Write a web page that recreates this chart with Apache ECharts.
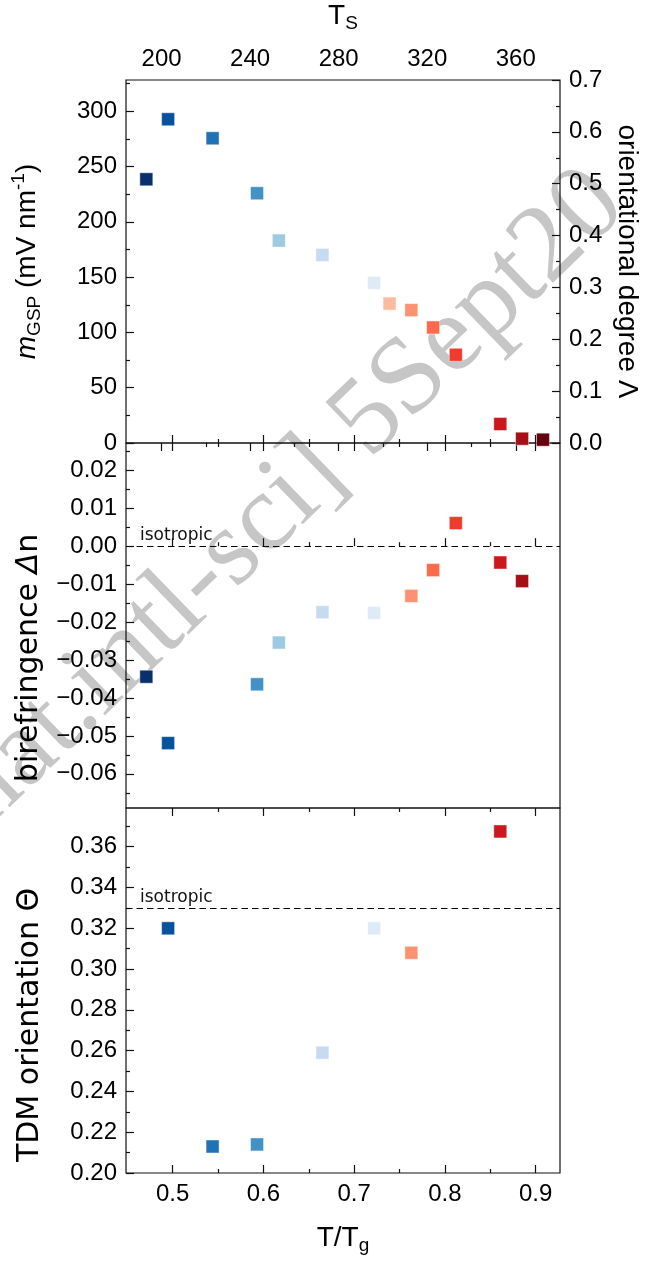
<!DOCTYPE html>
<html>
<head>
<meta charset="utf-8">
<script src="https://cdn.jsdelivr.net/npm/echarts@6/dist/echarts.min.js"></script>
<style>
  html, body { margin: 0; padding: 0; background: #ffffff; }
  #chart { width: 651px; height: 1262px; }
</style>
</head>
<body>
<div id="chart"></div>
<script>
// ---- samples, ordered by substrate temperature (reduced T / Tg) ----
const tOverTg = [0.471, 0.495, 0.544, 0.593, 0.617, 0.665, 0.722, 0.739, 0.763, 0.787, 0.812, 0.861, 0.885, 0.908];
const glassTemp = 410; // K, converts T/Tg into substrate temperature T_S

// giant surface potential slope (mV/nm)
const mGSP = [238.5, 292.8, 275.6, 225.9, 183.1, 170.1, 144.8, 126.1, 120.2, 104.5, 79.8, 17.2, 3.9, 3.0];
// birefringence Δn (null = not measured)
const birefringence = [-0.0344, -0.0519, null, -0.0364, -0.0254, -0.0174, -0.0176, null, -0.0131, -0.0063, 0.0061, -0.0043, -0.0092, null];
// transition dipole moment orientation Θ (null = not measured)
const tdmOrientation = [null, 0.320, 0.213, 0.214, null, 0.259, 0.320, null, 0.308, null, null, 0.3675, null, null];

// isotropic reference levels
const isoBirefringence = 0;
const isoTheta = 0.33;

// cold-to-hot sample colours
const sampleColors = ['#08306b', '#08519c', '#2171b5', '#4292c6', '#9ecae1', '#c6dbef', '#deebf7',
                      '#fcbba1', '#fc9272', '#fb6a4a', '#ef3b2c', '#cb181d', '#a50f15', '#67000d'];

// ---- axis ranges and ticks ----
const xRange = [0.4486, 0.9268];
const xMajor = [0.5, 0.6, 0.7, 0.8, 0.9];
const xMinor = [0.55, 0.65, 0.75, 0.85];
const tsMajor = [200, 240, 280, 320, 360];
const tsMinor = [220, 260, 300, 340];

const mRange = [0, 328.3];
const mMajor = [0, 50, 100, 150, 200, 250, 300];
const mMinor = [25, 75, 125, 175, 225, 275, 325];

const lambdaRange = [0, 0.7];
const lambdaMajor = [0, 0.1, 0.2, 0.3, 0.4, 0.5, 0.6, 0.7];
const lambdaMinor = [0.05, 0.15, 0.25, 0.35, 0.45, 0.55, 0.65];

const dnRange = [-0.069, 0.0272];
const dnMajor = [-0.06, -0.05, -0.04, -0.03, -0.02, -0.01, 0, 0.01, 0.02];
const dnMinor = [-0.065, -0.055, -0.045, -0.035, -0.025, -0.015, -0.005, 0.005, 0.015, 0.025];

const thetaRange = [0.2, 0.379];
const thetaMajor = [0.20, 0.22, 0.24, 0.26, 0.28, 0.30, 0.32, 0.34, 0.36];
const thetaMinor = [0.21, 0.23, 0.25, 0.27, 0.29, 0.31, 0.33, 0.35, 0.37];

// ---- styling ----
const TICK_FONT = 'Liberation Sans';
const TITLE_FONT = 'Liberation Sans';
const PLAIN_FONT = 'DejaVu Sans';
const TITLE_SIZE = 28;
const INK = '#111111';
const MAJOR_LEN = 8;
const MINOR_LEN = 4;

const panels = [
  { left: 126, top: 80, width: 434, height: 363 },
  { left: 126, top: 443, width: 434, height: 365 },
  { left: 126, top: 808, width: 434, height: 365 }
];

const fixed = d => v => (v < -1e-12 ? '\u2212' : '') + Math.abs(v).toFixed(d);

function tickAxis(grid, position, range, ticks, len, label) {
  return {
    type: 'value',
    gridIndex: grid,
    position: position,
    min: range[0],
    max: range[1],
    axisLine: { show: false },
    splitLine: { show: false },
    axisTick: { show: true, inside: true, length: len, customValues: ticks,
                lineStyle: { color: INK, width: 1.2 } },
    axisLabel: label
      ? Object.assign({ show: true, customValues: ticks, color: '#000',
                        fontFamily: TICK_FONT, fontSize: 24 }, label)
      : { show: false }
  };
}

const tsRange = [xRange[0] * glassTemp, xRange[1] * glassTemp];

const xAxes = [
  // panel 1
  tickAxis(0, 'bottom', xRange, xMajor, MAJOR_LEN),
  tickAxis(0, 'bottom', xRange, xMinor, MINOR_LEN),
  tickAxis(0, 'top', tsRange, tsMajor, MAJOR_LEN, { margin: 9, formatter: v => String(v) }),
  tickAxis(0, 'top', tsRange, tsMinor, MINOR_LEN),
  // panel 2
  tickAxis(1, 'bottom', xRange, xMajor, MAJOR_LEN),
  tickAxis(1, 'bottom', xRange, xMinor, MINOR_LEN),
  tickAxis(1, 'top', xRange, xMajor, MAJOR_LEN),
  tickAxis(1, 'top', xRange, xMinor, MINOR_LEN),
  // panel 3
  tickAxis(2, 'bottom', xRange, xMajor, MAJOR_LEN, { margin: 9, formatter: fixed(1) }),
  tickAxis(2, 'bottom', xRange, xMinor, MINOR_LEN),
  tickAxis(2, 'top', xRange, xMajor, MAJOR_LEN),
  tickAxis(2, 'top', xRange, xMinor, MINOR_LEN)
];

const yAxes = [
  tickAxis(0, 'left', mRange, mMajor, MAJOR_LEN, { margin: 9, formatter: v => String(v) }),
  tickAxis(0, 'left', mRange, mMinor, MINOR_LEN),
  tickAxis(0, 'right', lambdaRange, lambdaMajor, MAJOR_LEN, { margin: 9, formatter: fixed(1) }),
  tickAxis(0, 'right', lambdaRange, lambdaMinor, MINOR_LEN),
  tickAxis(1, 'left', dnRange, dnMajor, MAJOR_LEN, { margin: 9, formatter: fixed(2) }),
  tickAxis(1, 'left', dnRange, dnMinor, MINOR_LEN),
  tickAxis(2, 'left', thetaRange, thetaMajor, MAJOR_LEN, { margin: 9, formatter: fixed(2) }),
  tickAxis(2, 'left', thetaRange, thetaMinor, MINOR_LEN)
];

function points(values) {
  const out = [];
  values.forEach((v, i) => {
    if (v === null) return;
    out.push({ value: [tOverTg[i], v], itemStyle: { color: sampleColors[i] } });
  });
  return out;
}

function isotropicLine(level) {
  return {
    silent: true,
    symbol: 'none',
    animation: false,
    lineStyle: { color: '#000', type: [6.5, 4], width: 1.2 },
    label: {
      show: true, position: 'insideStartTop', formatter: 'isotropic',
      fontFamily: PLAIN_FONT, fontSize: 17, color: '#111',
      distance: 2, padding: [0, 0, 0, 12]
    },
    emphasis: { disabled: true },
    data: [{ yAxis: level }]
  };
}

const markerStyle = {
  type: 'scatter', symbol: 'rect', symbolSize: 13, clip: false,
  itemStyle: { opacity: 1, borderColor: 'rgba(255,255,255,0.45)', borderWidth: 1 },
  emphasis: { disabled: true }
};

const series = [
  Object.assign({}, markerStyle, { name: 'mGSP', xAxisIndex: 0, yAxisIndex: 0, data: points(mGSP) }),
  Object.assign({}, markerStyle, { name: 'birefringence', xAxisIndex: 4, yAxisIndex: 4,
    data: points(birefringence), markLine: isotropicLine(isoBirefringence) }),
  Object.assign({}, markerStyle, { name: 'TDM', xAxisIndex: 8, yAxisIndex: 6,
    data: points(tdmOrientation), markLine: isotropicLine(isoTheta) })
];

// ---- axis titles, laid out token by token so sub/superscripts sit right ----
const measureCtx = document.createElement('canvas').getContext('2d');
function tokenFont(tk) {
  return (tk.italic ? 'italic ' : '') + (tk.size || TITLE_SIZE) + 'px "' + (tk.font || TITLE_FONT) + '"';
}
function composedTitle(tokens, cx, cy, rotation) {
  const widths = tokens.map(tk => { measureCtx.font = tokenFont(tk); return measureCtx.measureText(tk.text).width; });
  const total = widths.reduce((a, b) => a + b, 0);
  let x = -total / 2;
  const children = tokens.map((tk, i) => {
    const el = {
      type: 'text', x: x, y: tk.dy || 0,
      style: {
        text: tk.text, fill: '#000', fontFamily: tk.font || TITLE_FONT, fontSize: tk.size || TITLE_SIZE,
        fontStyle: tk.italic ? 'italic' : 'normal', align: 'left', verticalAlign: 'middle'
      }
    };
    x += widths[i];
    return el;
  });
  return { type: 'group', x: cx, y: cy, rotation: rotation, z: 10, children: children };
}

const SUB = 19;
const PLAIN_SIZE = 30;
const titles = [
  composedTitle([{ text: 'T' }, { text: 'S', size: SUB, dy: 7.5 }], 343, 16, 0),
  composedTitle([{ text: 'T/T' }, { text: 'g', size: SUB, dy: 7.5 }], 343, 1238, 0),
  composedTitle([{ text: 'm', italic: true }, { text: 'GSP', size: SUB, dy: 7.5 },
                 { text: ' (mV nm' }, { text: '-1', size: SUB, dy: -8 }, { text: ')' }],
                27, 261.5, Math.PI / 2),
  composedTitle([{ text: 'birefringence ', font: PLAIN_FONT, size: PLAIN_SIZE },
                 { text: '\u0394', italic: true, font: PLAIN_FONT, size: PLAIN_SIZE },
                 { text: 'n', font: PLAIN_FONT, size: PLAIN_SIZE }],
                29, 658, Math.PI / 2),
  composedTitle([{ text: 'TDM orientation \u0398', font: PLAIN_FONT, size: PLAIN_SIZE }],
                30, 1025, Math.PI / 2),
  composedTitle([{ text: 'orientational degree \u039B' }], 627, 261.5, -Math.PI / 2)
];

// faint diagonal stamp running behind the panels
const watermark = {
  type: 'text', x: 5, y: 848, rotation: 44 * Math.PI / 180, z: -1,
  style: { text: 'nat.intl-sci] 5Sept20', fill: '#c6c6c6', fontFamily: 'Liberation Serif',
           fontSize: 110, align: 'left', verticalAlign: 'bottom' }
};

const chart = echarts.init(document.getElementById('chart'), null, { renderer: 'canvas' });
chart.setOption({
  animation: false,
  backgroundColor: '#ffffff',
  grid: panels.map(p => Object.assign({ show: true, borderColor: INK, borderWidth: 1.2,
                                        backgroundColor: 'transparent' }, p)),
  xAxis: xAxes,
  yAxis: yAxes,
  series: series,
  graphic: { elements: [watermark].concat(titles) }
});
</script>
</body>
</html>
